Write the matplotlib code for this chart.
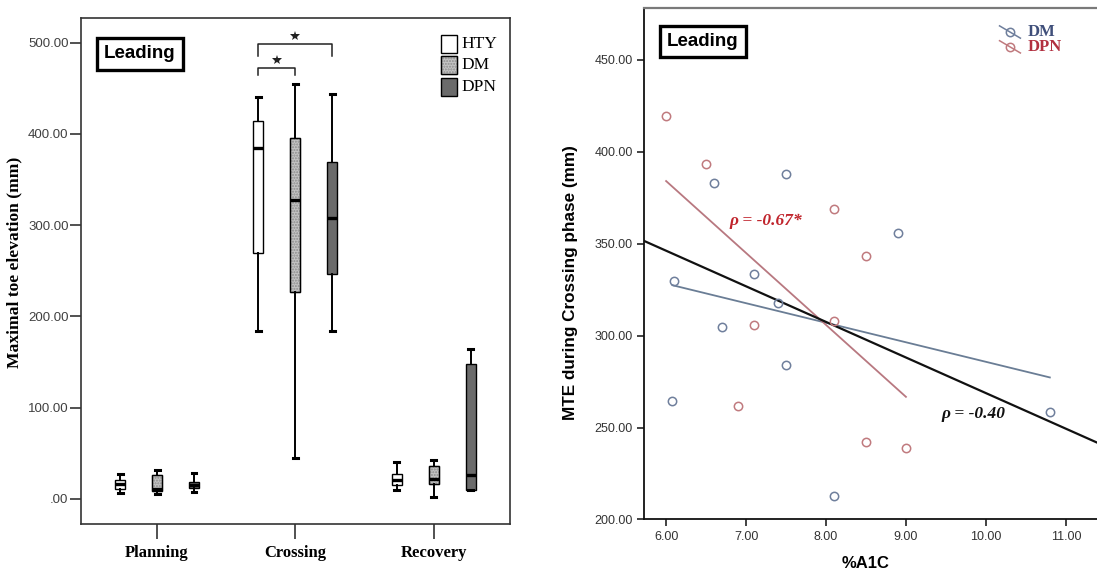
import numpy as np
import matplotlib
matplotlib.use('Agg')
import matplotlib.pyplot as plt
from matplotlib.patches import Rectangle, PathPatch
from matplotlib import font_manager

# five-number summaries of maximal toe elevation (mm), per phase
phases = ['Planning', 'Crossing', 'Recovery']
hty_med = [16.5, 384.5, 21.0]
hty_q1 = [11.0, 270.0, 15.7]
hty_q3 = [21.0, 414.0, 27.0]
hty_lo = [7.0, 184.0, 9.5]
hty_hi = [27.0, 440.0, 41.0]
dm_med = [11.0, 328.0, 22.0]
dm_q1 = [9.0, 227.0, 16.5]
dm_q3 = [26.0, 395.0, 36.5]
dm_lo = [5.5, 45.0, 2.2]
dm_hi = [32.0, 455.0, 43.0]
dpn_med = [15.7, 308.0, 26.0]
dpn_q1 = [11.7, 247.0, 10.0]
dpn_q3 = [19.0, 369.0, 147.7]
dpn_lo = [7.7, 184.0, 9.5]
dpn_hi = [29.0, 444.0, 164.0]
groups = ['HTY', 'DM', 'DPN']

# %A1C vs MTE during crossing
dm_a1c = [6.6, 7.5, 8.9, 7.1, 6.1, 7.4, 6.7, 7.5, 6.08, 10.8, 8.1]
dm_mte = [383.0, 388.0, 355.8, 333.3, 330.0, 317.8, 304.7, 284.2, 264.7, 258.5, 213.0]
dpn_a1c = [6.0, 6.5, 8.1, 8.5, 8.1, 7.1, 6.9, 8.5, 9.0]
dpn_mte = [419.4, 393.5, 369.0, 343.3, 308.0, 305.8, 261.6, 242.2, 239.1]
rho_dpn = '\u03c1 = -0.67*'
rho_all = '\u03c1 = -0.40'

names = {f.name for f in font_manager.fontManager.ttflist}
narrow = 'Liberation Sans Narrow' if 'Liberation Sans Narrow' in names else 'Liberation Sans'
serif = 'Liberation Serif'
sans = 'Liberation Sans'

dm_col = '#6f7f9c'
dpn_col = '#c07a7e'

fig = plt.figure(figsize=(10.97, 5.73), dpi=100)

# ---- left: box plots
ax = fig.add_axes([0.0738, 0.0855, 0.391, 0.8831])
off = 0.267
fills = ['white', '#c4c4c4', '#6b6b6b']
meds = [hty_med, dm_med, dpn_med]
q1s = [hty_q1, dm_q1, dpn_q1]
q3s = [hty_q3, dm_q3, dpn_q3]
los = [hty_lo, dm_lo, dpn_lo]
his = [hty_hi, dm_hi, dpn_hi]
for g in range(3):
    stats = []
    for i in range(len(phases)):
        stats.append(dict(med=meds[g][i], q1=q1s[g][i], q3=q3s[g][i],
                          whislo=los[g][i], whishi=his[g][i], fliers=[]))
    pos = np.arange(len(phases)) + (g - 1) * off
    bp = ax.bxp(stats, positions=pos, widths=0.072, patch_artist=True,
                showfliers=False, manage_ticks=False,
                boxprops=dict(facecolor=fills[g], edgecolor='black', linewidth=1.0),
                medianprops=dict(color='black', linewidth=2.4),
                whiskerprops=dict(color='black', linewidth=1.4),
                capprops=dict(color='black', linewidth=2.2))
    if g == 1:
        for b in bp['boxes']:
            b.set_hatch('......')
            b.set_edgecolor('#8c8c8c')
            ax.add_patch(PathPatch(b.get_path(), fill=False, edgecolor='black',
                                   linewidth=1.0, transform=b.get_transform(), zorder=3))

ax.set_xlim(-0.55, 2.55)
ax.set_ylim(-27.4, 527)
ax.set_yticks([0, 100, 200, 300, 400, 500])
ax.set_yticklabels(['.00', '100.00', '200.00', '300.00', '400.00', '500.00'],
                   fontfamily=narrow, fontsize=9.5, color='#404040')
ax.set_xticks(range(len(phases)))
ax.set_xticklabels(phases, fontfamily=serif, fontweight='bold', fontsize=12)
ax.tick_params(axis='y', length=8, width=1.2, pad=1, color='#333333')
ax.tick_params(axis='x', length=11, width=1.2, pad=4, color='#333333')
for s in ax.spines.values():
    s.set_color('#333333')
    s.set_linewidth(1.2)
ax.set_ylabel('Maximal toe elevation (mm)', fontfamily=serif, fontweight='bold', fontsize=12.6)
ax.yaxis.set_label_coords(-0.1375, 0.517)

# significance brackets over the crossing phase
xc = 1
ax.plot([xc - off, xc - off, xc + off, xc + off], [485, 499, 499, 485], color='#222222', lw=1.1)
ax.plot([xc - off, xc - off, xc, xc], [465, 472.6, 472.6, 465], color='#222222', lw=1.1)
ax.plot([xc], [507], marker='*', color='#222222', ms=7, mew=0)
ax.plot([xc - off / 2], [481], marker='*', color='#222222', ms=7, mew=0)

ax.text(0.054, 0.929, 'Leading', transform=ax.transAxes, fontfamily=sans,
        fontweight='bold', fontsize=13.5, va='center', ha='left',
        bbox=dict(boxstyle='square,pad=0.38', facecolor='white', edgecolor='black', linewidth=2.4))

# group legend
ys = [0.931, 0.889, 0.846]
for g in range(3):
    r = Rectangle((0.839, ys[g]), 0.0373, 0.0356, transform=ax.transAxes,
                  facecolor=fills[g], edgecolor='black', linewidth=1.0)
    if g == 1:
        r.set_hatch('......')
        r.set_edgecolor('#8c8c8c')
        ax.add_patch(Rectangle((0.839, ys[g]), 0.0373, 0.0356, transform=ax.transAxes,
                               fill=False, edgecolor='black', linewidth=1.0, zorder=4))
    ax.add_patch(r)
    ax.text(0.886, ys[g] + 0.0178, groups[g], transform=ax.transAxes, fontfamily=serif,
            fontsize=12.5, va='center', ha='left')

# ---- right: scatter with fit lines
bx = fig.add_axes([0.5868, 0.0934, 0.4132, 0.8927])
bx.set_xlim(5.72, 11.39)
bx.set_ylim(200, 478.3)

bx.plot(dm_a1c, dm_mte, 'o', mfc='none', mec=dm_col, ms=6, mew=1.1, zorder=3)
bx.plot(dpn_a1c, dpn_mte, 'o', mfc='none', mec=dpn_col, ms=6, mew=1.1, zorder=3)

k, c = np.polyfit(dm_a1c, dm_mte, 1)
xs = np.array([min(dm_a1c), max(dm_a1c)])
bx.plot(xs, k * xs + c, color='#6a7d95', lw=1.3)
k, c = np.polyfit(dpn_a1c, dpn_mte, 1)
xs = np.array([min(dpn_a1c), max(dpn_a1c)])
bx.plot(xs, k * xs + c, color='#b87880', lw=1.3)
k, c = np.polyfit(dm_a1c + dpn_a1c, dm_mte + dpn_mte, 1)
xs = np.array(bx.get_xlim())
bx.plot(xs, k * xs + c, color='#111111', lw=1.6)

bx.text(7.25, 362.5, rho_dpn, color='#c0242c', fontfamily=serif, fontweight='bold',
        fontstyle='italic', fontsize=12.5, ha='center', va='center')
bx.text(9.84, 257.6, rho_all, color='#111111', fontfamily=serif, fontweight='bold',
        fontstyle='italic', fontsize=12.5, ha='center', va='center')

bx.set_xticks([6, 7, 8, 9, 10, 11])
bx.set_xticklabels(['6.00', '7.00', '8.00', '9.00', '10.00', '11.00'],
                   fontfamily=sans, fontsize=9, color='#333333')
bx.set_yticks([200, 250, 300, 350, 400, 450])
bx.set_yticklabels(['200.00', '250.00', '300.00', '350.00', '400.00', '450.00'],
                   fontfamily=sans, fontsize=9, color='#333333')
bx.tick_params(length=5, width=1.2, pad=3, color='#222222')
bx.spines['right'].set_visible(False)
bx.spines['top'].set_color('#7a7a7a')
bx.spines['top'].set_linewidth(1.6)
bx.spines['left'].set_color('#111111')
bx.spines['bottom'].set_color('#111111')
bx.spines['left'].set_linewidth(1.3)
bx.spines['bottom'].set_linewidth(1.3)
bx.set_ylabel('MTE during Crossing phase (mm)', fontfamily=sans, fontweight='bold', fontsize=12.3)
bx.yaxis.set_label_coords(-0.145, 0.463)
bx.set_xlabel('%A1C', fontfamily=sans, fontweight='bold', fontsize=12)
bx.xaxis.set_label_coords(0.49, -0.072)

bx.text(0.051, 0.9345, 'Leading', transform=bx.transAxes, fontfamily=sans,
        fontweight='bold', fontsize=13.5, va='center', ha='left',
        bbox=dict(boxstyle='square,pad=0.38', facecolor='white', edgecolor='black', linewidth=2.4))

# group key: open circle with a short slanted line through it
for yk, col, tcol, lab in [(0.953, dm_col, '#3f4f7a', 'DM'), (0.924, dpn_col, '#b23040', 'DPN')]:
    bx.plot([0.785, 0.831], [yk + 0.012, yk - 0.012], color=col, lw=1.1, transform=bx.transAxes)
    bx.plot([0.808], [yk], 'o', mfc='none', mec=col, ms=6, mew=1.1, transform=bx.transAxes)
    bx.text(0.846, yk, lab, color=tcol, transform=bx.transAxes, fontfamily=serif,
            fontweight='bold', fontsize=12, va='center', ha='left')

fig.savefig('out.png', dpi=100)
